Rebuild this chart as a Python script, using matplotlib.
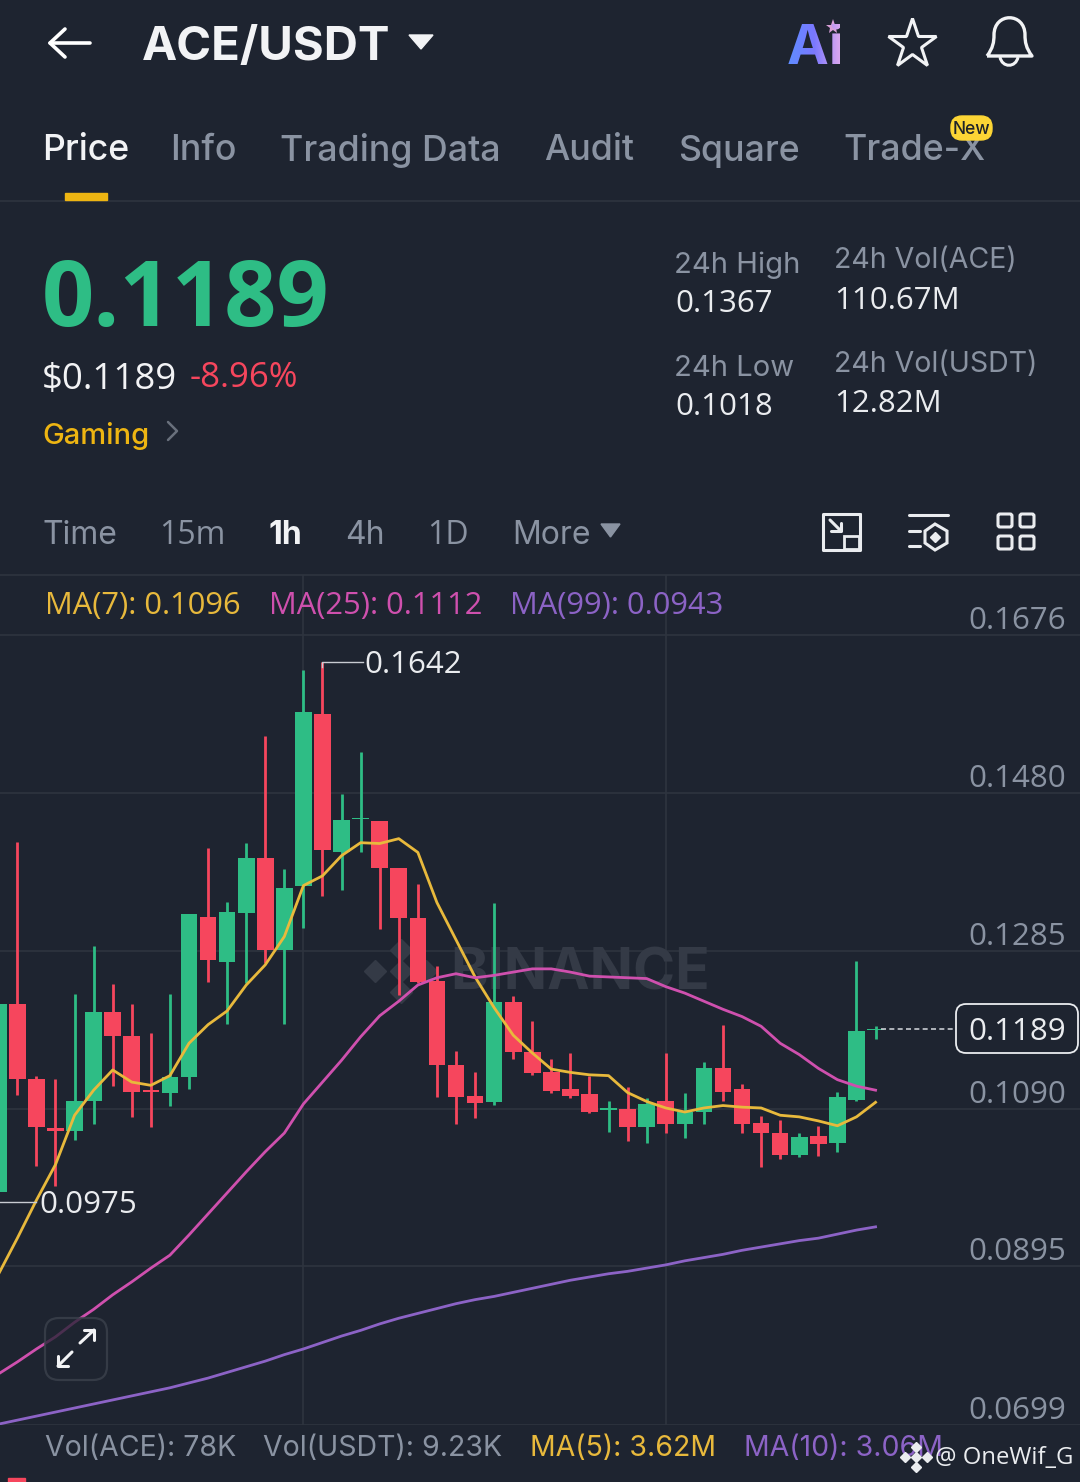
import numpy as np
import matplotlib
matplotlib.use('Agg')
import matplotlib.pyplot as plt
from matplotlib.patches import FancyBboxPatch, Polygon, PathPatch, Rectangle
from matplotlib.path import Path
from matplotlib.textpath import TextPath
from matplotlib.font_manager import FontProperties
from matplotlib.transforms import Affine2D

plt.rcParams['font.family'] = ['Inter', 'Noto Sans', 'DejaVu Sans']
NUM = ['Open Sans', 'DejaVu Sans']  # equal width digits, for the numbers

# candle values, price * 10000
opens = [987, 1220, 1127, 1066, 1062, 1099, 1210, 1180, 1113, 1110, 1129, 1327, 1272, 1332, 1400, 1286,
         1366, 1578, 1408, 1448, 1446, 1388, 1326, 1248, 1144, 1106, 1098, 1222, 1160, 1136, 1114, 1108,
         1088, 1090, 1067, 1099, 1071, 1086, 1141, 1114, 1072, 1060, 1033, 1056, 1048, 1101, 1187]
closes = [1220, 1127, 1067, 1063, 1099, 1210, 1180, 1111, 1111, 1129, 1331, 1274, 1333, 1400, 1286, 1363,
          1580, 1410, 1447, 1450, 1388, 1326, 1247, 1144, 1105, 1097, 1222, 1160, 1134, 1112, 1106, 1086,
          1091, 1067, 1096, 1071, 1086, 1140, 1111, 1071, 1060, 1033, 1055, 1046, 1105, 1186, 1189]
highs = [1222, 1420, 1131, 1127, 1232, 1291, 1244, 1220, 1184, 1232, 1331, 1413, 1346, 1419, 1551, 1387,
         1633, 1642, 1479, 1531, 1446, 1388, 1368, 1267, 1162, 1136, 1345, 1230, 1199, 1152, 1159, 1130,
         1100, 1117, 1103, 1159, 1109, 1148, 1193, 1121, 1081, 1076, 1060, 1069, 1111, 1273, 1192]
lows = [985, 1107, 1019, 995, 1051, 1071, 1118, 1080, 1068, 1093, 1114, 1247, 1195, 1245, 1270, 1195,
        1314, 1353, 1360, 1408, 1312, 1231, 1245, 1105, 1071, 1078, 1095, 1152, 1132, 1110, 1103, 1085,
        1061, 1050, 1048, 1060, 1054, 1071, 1100, 1060, 1018, 1028, 1030, 1031, 1037, 1100, 1176]
ma7 = [885, 930, 977, 1021, 1082, 1113, 1138, 1123, 1119, 1131, 1171, 1194, 1211, 1243, 1268, 1303,
       1366, 1378, 1403, 1419, 1418, 1424, 1407, 1345, 1299, 1253, 1215, 1181, 1159, 1139, 1135, 1132,
       1131, 1110, 1099, 1091, 1086, 1091, 1094, 1092, 1091, 1082, 1080, 1075, 1069, 1080, 1098]
ma25 = [762, 777, 793, 808, 826, 842, 860, 876, 893, 909, 934, 960, 986, 1012, 1037, 1060,
        1096, 1123, 1150, 1179, 1205, 1223, 1243, 1252, 1257, 1252, 1255, 1259, 1263, 1263, 1259, 1254,
        1253, 1252, 1251, 1241, 1233, 1223, 1213, 1204, 1192, 1171, 1157, 1140, 1126, 1118, 1113]
ma99 = [700, 705, 710, 715, 720, 725, 730, 735, 740, 745, 751, 757, 764, 771, 778, 786,
        793, 801, 809, 816, 824, 831, 837, 843, 849, 854, 858, 863, 868, 873, 878, 882,
        886, 889, 893, 897, 902, 906, 910, 915, 919, 923, 927, 930, 935, 940, 944]

price_ticks = [0.1676, 0.1480, 0.1285, 0.1090, 0.0895, 0.0699]
tab_names = ['Price', 'Info', 'Trading Data', 'Audit', 'Square', 'Trade-X']
tab_x = [42.5, 170, 280, 544, 678, 843]
time_names = ['Time', '15m', '1h', '4h', '1D', 'More']
time_x = [42, 159, 268, 345, 427, 512]

BG = '#1e2430'
GRID = '#2e343f'
GREY = '#8a93a2'
GREEN = '#2ebd85'
RED = '#f6465d'
YELLOW = '#eeb512'
MA7_C = '#e8b93c'
MA25_C = '#cf50ae'
MA99_C = '#8c63c6'

fig = plt.figure(figsize=(10.8, 14.82), dpi=100, facecolor=BG)

# chart area, y=575..1425 px
ax = fig.add_axes([0, (1482 - 1425) / 1482, 1, 850 / 1482], facecolor=BG)
x = np.arange(len(opens))
o = np.array(opens) / 10000
c = np.array(closes) / 10000
h = np.array(highs) / 10000
l = np.array(lows) / 10000
colors = [GREEN if b >= a else RED for a, b in zip(o, c)]

ax.set_xlim(0.09, 56.72)
ax.set_ylim(0.0699, 0.1750)
ax.set_yticks(price_ticks)
ax.set_xticks([16, 35])
ax.grid(True, color=GRID, lw=1.2)
ax.set_axisbelow(True)
ax.tick_params(length=0, labelleft=False, labelbottom=False)
for s in ax.spines.values():
    s.set_visible(False)

# watermark sits under the candles
ax.text(23.7, 0.1256, 'BINANCE', color='#343a46', fontsize=41, fontweight='bold', va='center', zorder=1)
for dx, dy in [(0, 0), (-1.35, 0), (1.35, 0), (0, 0.0026), (0, -0.0026)]:
    ax.plot(21.1 + dx, 0.1260 + dy, 'D', color='#343a46', ms=11, zorder=1)

ax.vlines(x, l, h, colors=colors, lw=2.0, zorder=3)
ax.bar(x, np.abs(c - o), bottom=np.minimum(o, c), width=0.87, color=colors, zorder=3)
ax.plot(x, np.array(ma7) / 10000, color=MA7_C, lw=2.0, zorder=4)
ax.plot(x, np.array(ma25) / 10000, color=MA25_C, lw=2.0, zorder=4)
ax.plot(x, np.array(ma99) / 10000, color=MA99_C, lw=2.0, zorder=4)

for p in price_ticks:
    ax.annotate('%.4f' % p, (1, p), xycoords=ax.get_yaxis_transform(), xytext=(-14, 14),
                textcoords='offset pixels', ha='right', va='center', color=GREY, fontsize=22.5,
                family=NUM, zorder=5)

# high / low labels
ax.plot([17, 17, 19.1], [0.1642 - 0.0006, 0.1642, 0.1642], color='#c8ccd2', lw=1, zorder=5)
ax.annotate('0.1642', (19.2, 0.1642), xytext=(0, -3), textcoords='offset pixels', color='#eaecef',
            fontsize=22.5, va='center', family=NUM, zorder=5)
ax.plot([0.09, 2.0], [0.0975, 0.0975], color='#c8ccd2', lw=1, zorder=5)
ax.annotate('0.0975', (2.15, 0.0975), xytext=(0, -3), textcoords='offset pixels', color='#eaecef',
            fontsize=22.5, va='center', family=NUM, zorder=5)

# last price
ax.plot([46.3, 50.1], [0.1189, 0.1189], color='#c8ccd2', lw=1.2, ls=(0, (3, 2)), zorder=5)

# everything else in pixel coordinates
ui = fig.add_axes([0, 0, 1, 1], facecolor='none')
ui.set_xlim(0, 1080)
ui.set_ylim(1482, 0)
ui.axis('off')


def label(px, py, s, size, color, weight='normal', family=None):
    ui.text(px, py + 3, s, fontsize=size, color=color, fontweight=weight, va='center',
            family=family or plt.rcParams['font.family'])


def line(xs, ys, color='white', lw=2.6):
    ui.plot(xs, ys, color=color, lw=lw, solid_capstyle='round', solid_joinstyle='round')


# header
line([50, 90], [43, 43])
line([65, 50, 65], [29, 43, 57])
label(142, 45, 'ACE/USDT', 34, '#f2f3f5', 'bold')
ui.add_patch(Polygon([[409, 35], [433, 35], [421, 49]], closed=True, color='#f2f3f5'))

tp = TextPath((0, 0), 'Ai', size=56, prop=FontProperties(family='Inter', weight='bold'))
tp = tp.transformed(Affine2D().scale(1, -1).translate(787, 64))
grad = np.linspace(0, 1, 100).reshape(1, -1)
im = ui.imshow(grad, extent=(788, 840, 64, 24), cmap=matplotlib.colors.LinearSegmentedColormap.from_list(
    'ai', ['#5f8dff', '#7a78ff', '#d9a6ee']), aspect='auto', zorder=3)
clip = PathPatch(tp, transform=ui.transData, facecolor='none', edgecolor='none')
ui.add_patch(clip)
im.set_clip_path(clip)
ui.set_xlim(0, 1080)
ui.set_ylim(1482, 0)
ui.plot(833, 27, marker='*', color='#d9a0d8', ms=11, mew=0)
ui.plot(912, 44, marker='*', mfc='none', mec='#f2f3f5', mew=2.2, ms=37)

bell = Path([(987, 56), (993, 48), (994, 42), (994, 35), (994, 12), (1025, 12), (1025, 35),
             (1025, 42), (1026, 48), (1032, 56), (987, 56)],
            [Path.MOVETO, Path.CURVE4, Path.CURVE4, Path.CURVE4, Path.CURVE4, Path.CURVE4, Path.CURVE4,
             Path.CURVE4, Path.CURVE4, Path.CURVE4, Path.LINETO])
ui.add_patch(PathPatch(bell, facecolor='none', edgecolor='#f2f3f5', lw=2.4, joinstyle='round'))
clapper = Path([(1000, 57), (1002, 68), (1016, 68), (1018, 57)], [Path.MOVETO, Path.CURVE4, Path.CURVE4, Path.CURVE4])
ui.add_patch(PathPatch(clapper, facecolor='none', edgecolor='#f2f3f5', lw=2.2))

# tabs
for name, px in zip(tab_names, tab_x):
    label(px, 148, name, 25.7, '#f2f3f5' if name == 'Price' else GREY, 'medium')
ui.add_patch(Rectangle((65, 193), 42, 7, color=YELLOW, zorder=3))
line([0, 1080], [201, 201], GRID, 1.2)
ui.add_patch(FancyBboxPatch((953, 118), 37, 20, boxstyle='round,pad=2,rounding_size=11', color='#fcd535', zorder=4))
ui.text(971.5, 129, 'New', fontsize=12.5, color='#1e2329', ha='center', va='center', fontweight='medium', zorder=5)

# price block
label(42, 299, '0.1189', 66, GREEN, 'bold', NUM)
label(42, 377, '$0.1189', 26.4, '#f2f3f5', 'medium', NUM)
label(190, 375, '-8.96%', 25, RED, 'normal', NUM)
label(42, 433, 'Gaming', 21, YELLOW, 'medium')
line([168, 177, 168], [422, 431, 440], '#69707c', 1.8)

label(674, 262, '24h High', 21, GREY)
label(675, 301, '0.1367', 22.5, '#eaecef', 'normal', NUM)
label(674, 365, '24h Low', 21, GREY)
label(675, 404, '0.1018', 22.5, '#eaecef', 'normal', NUM)
label(834, 258, '24h Vol(ACE)', 20.5, GREY)
label(834, 298, '110.67M', 22.5, '#eaecef', 'normal', NUM)
label(834, 361, '24h Vol(USDT)', 20.5, GREY)
label(834, 401, '12.82M', 22.5, '#eaecef', 'normal', NUM)

# interval row
for name, px in zip(time_names, time_x):
    if name == '1h':
        label(px, 532, name, 23, '#f2f3f5', 'bold')
    elif name in ('15m', '1D'):
        label(px, 532, name, 23, GREY, 'normal', NUM)
    else:
        label(px, 532, name, 23, GREY)
ui.add_patch(Polygon([[601, 524], [620, 524], [610.5, 537]], closed=True, color=GREY))

# toolbar icons
line([841, 823, 823, 860, 860], [514, 514, 550, 550, 514], '#eaecef', 2.2)
line([860, 841], [514, 514], '#eaecef', 2.2)
ui.add_patch(Rectangle((844, 536), 15, 13, facecolor=BG, edgecolor='#eaecef', lw=2, zorder=3))
line([830, 841], [520, 531], '#eaecef', 2.2)
line([841, 841, 831], [523, 531, 531], '#eaecef', 2.2)
line([909, 948], [515, 515], '#eaecef', 2.2)
line([909, 920], [531, 531], '#eaecef', 2.2)
line([909, 920], [546, 546], '#eaecef', 2.2)
ui.add_patch(Polygon([[935, 524], [947, 531], [947, 543], [935, 550], [925, 543], [925, 531]],
                     closed=True, facecolor='none', edgecolor='#eaecef', lw=2.2))
ui.plot(935, 537, 'D', color='#eaecef', ms=5)
for bx, by in [(998, 514), (1020, 514), (998, 536), (1020, 536)]:
    ui.add_patch(FancyBboxPatch((bx, by), 14, 13, boxstyle='round,pad=0,rounding_size=2',
                                facecolor='none', edgecolor='#eaecef', lw=2.2))
line([0, 1080], [575, 575], GRID, 1.2)

# MA legend
label(45, 603, 'MA(7): 0.1096', 22.2, MA7_C, 'normal', NUM)
label(269, 603, 'MA(25): 0.1112', 22.2, MA25_C, 'normal', NUM)
label(510, 603, 'MA(99): 0.0943', 22.2, MA99_C, 'normal', NUM)

# last price box
ui.add_patch(FancyBboxPatch((956, 1004), 122, 49, boxstyle='round,pad=0,rounding_size=10',
                            facecolor=BG, edgecolor='#eaecef', lw=1.3, zorder=5))
ui.text(1017, 1032, '0.1189', fontsize=22.5, color='#eaecef', ha='center', va='center', family=NUM, zorder=6)

# expand button
ui.add_patch(FancyBboxPatch((45, 1318), 62, 62, boxstyle='round,pad=0,rounding_size=14',
                            facecolor=BG, alpha=0.75, edgecolor='#3d434e', lw=1.6, zorder=5))
for xs, ys in [([80, 94], [1343, 1330]), ([84, 94, 94], [1330, 1330, 1340]),
               ([72, 58], [1352, 1366]), ([58, 58, 68], [1356, 1366, 1366])]:
    ui.plot(xs, ys, color='#f2f3f5', lw=2.2, zorder=6, solid_capstyle='round')

# volume legend and bottom row
label(45, 1446, 'Vol(ACE): 78K', 20.5, GREY)
label(263, 1446, 'Vol(USDT): 9.23K', 20.5, GREY)
label(530, 1446, 'MA(5): 3.62M', 20.5, MA7_C)
label(744, 1446, 'MA(10): 3.06M', 20.5, MA99_C)
ui.add_patch(Rectangle((8, 1478), 17, 4, color=RED))

# repost watermark
for dx, dy in [(0, -10), (-11, 0), (11, 0), (0, 10), (0, 0)]:
    ui.plot(916 + dx, 1457 + dy, 'D', color='#eaecef', ms=5, zorder=6)
ui.text(935, 1458, '@ OneWif_G', fontsize=17.2, color='#eaecef', va='center', zorder=6, family=NUM)

fig.savefig('out.png', dpi=100, facecolor=BG)
